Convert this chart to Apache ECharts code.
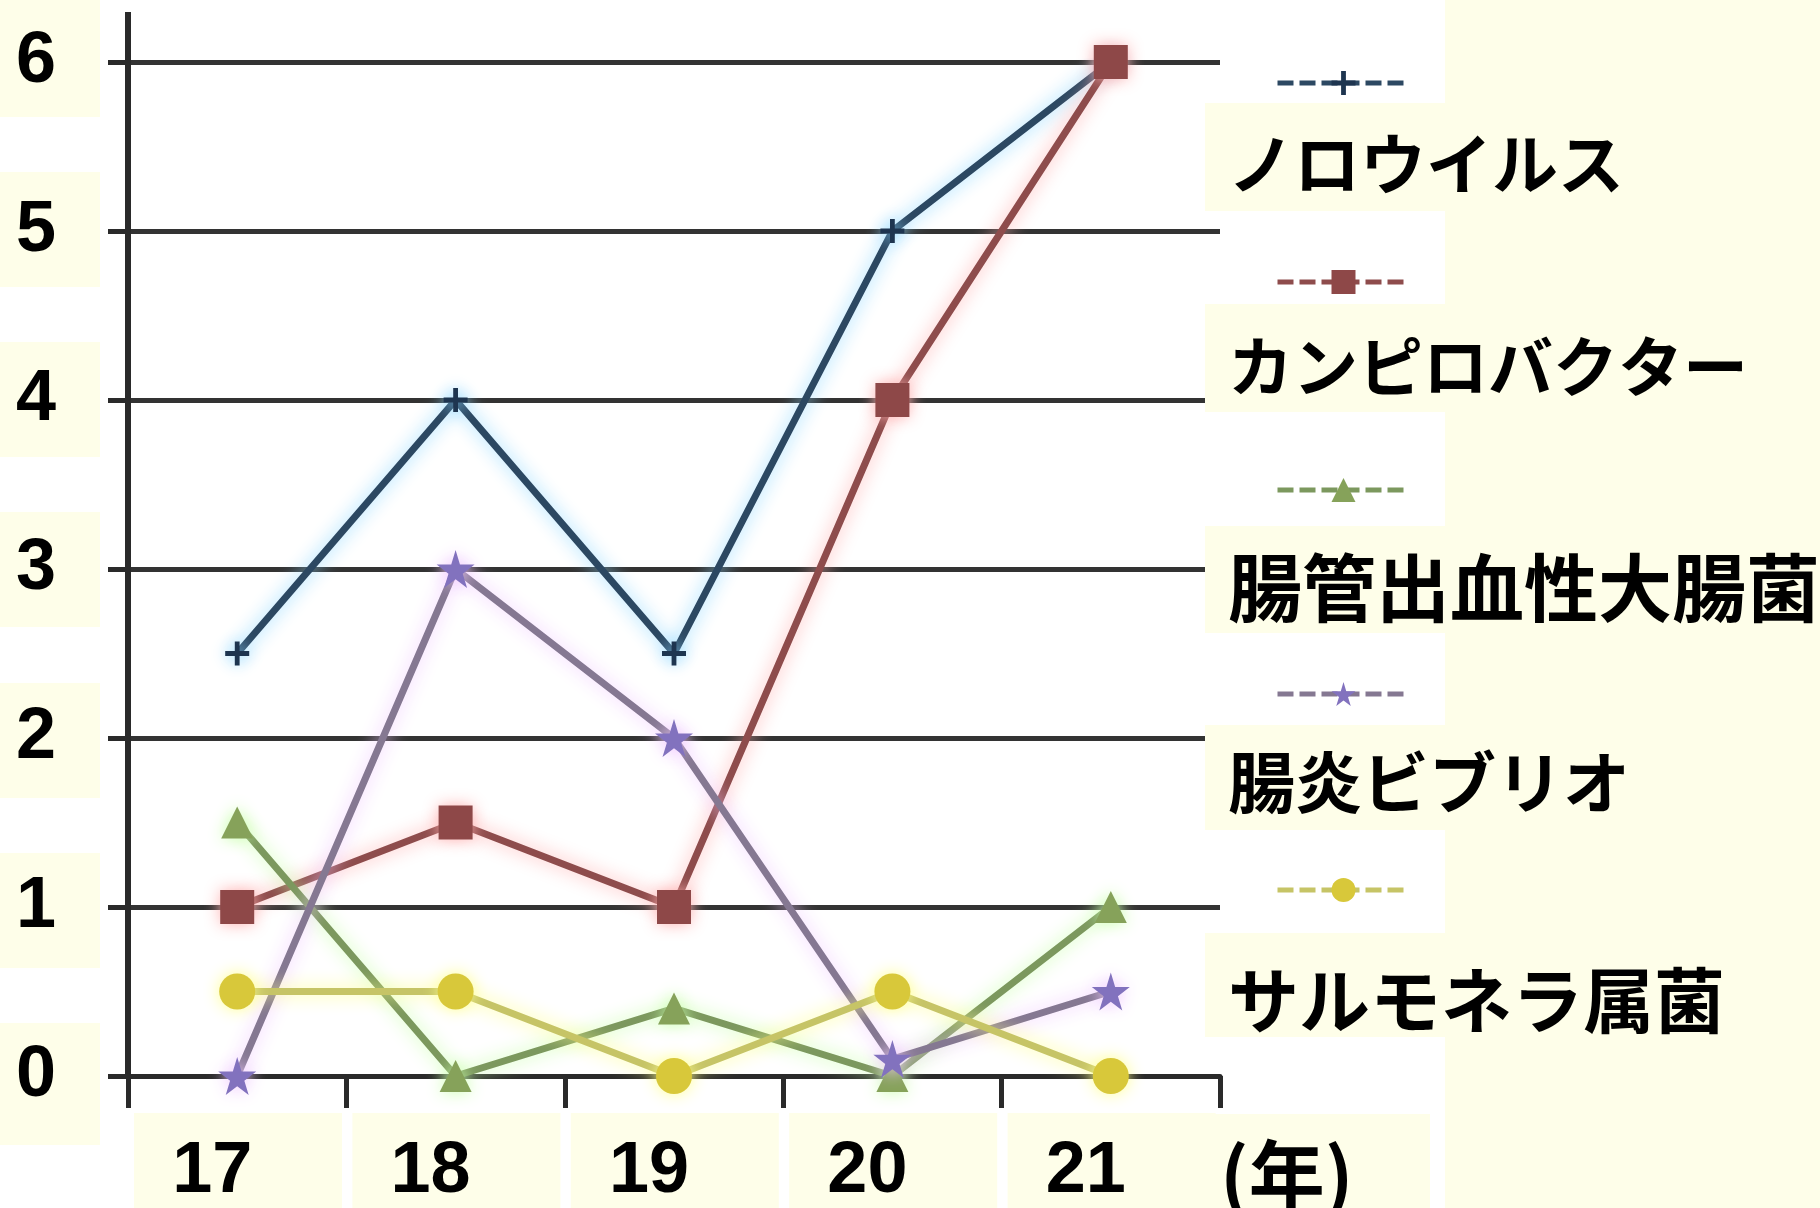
<!DOCTYPE html>
<html><head><meta charset="utf-8">
<script src="https://cdn.jsdelivr.net/npm/echarts@6/dist/echarts.min.js"></script>
<style>html,body{margin:0;padding:0;background:#fff}#c{width:1820px;height:1208px}</style>
</head><body><div id="c"></div>
<script>
// ---- data ----
const categories = ['17', '18', '19', '20', '21'];
const yTicks = [0, 1, 2, 3, 4, 5, 6];
const seriesNames = ['ノロウイルス', 'カンピロバクター', '腸管出血性大腸菌', '腸炎ビブリオ', 'サルモネラ属菌'];
const noro = [2.5, 4, 2.5, 5, 6];
const campylobacter = [1, 1.5, 1, 4, 6];
const ehec = [1.5, 0, 0.4, 0, 1];
const vibrio = [0, 3, 2, 0.1, 0.5];
const salmonella = [0.5, 0.5, 0, 0.5, 0];
const unitLabel = '(年)';

// ---- styles ----
const cream = '#FEFEE9';
const STAR = 'path://M50,0 L61,35 L98,35 L68,57 L79,91 L50,70 L21,91 L32,57 L2,35 L39,35 Z';
const PLUS = 'path://M4,0H6V4H10V6H6V10H4V6H0V4H4Z';
const looks = [
  {line: '#2C4862', halo: 'rgba(140,215,255,0.95)', symbol: PLUS, size: 24, mark: '#1E3550'},
  {line: '#8E4C4C', halo: 'rgba(255,175,175,0.95)', symbol: 'rect', size: 34, mark: '#8E4848'},
  {line: '#7C985E', halo: 'rgba(200,255,170,0.95)', symbol: 'triangle', size: 32, mark: '#86A25A'},
  {line: '#857892', halo: 'rgba(240,200,255,0.95)', symbol: STAR, size: 38, mark: '#8272BE'},
  {line: '#C6C466', halo: 'rgba(255,255,140,0.95)', symbol: 'circle', size: 36, mark: '#D8C83A'}
];
const values = [noro, campylobacter, ehec, vibrio, salmonella];

const series = seriesNames.map((name, i) => ({
  name: name,
  type: 'line',
  data: values[i],
  symbol: looks[i].symbol,
  symbolSize: looks[i].size,
  showSymbol: true,
  lineStyle: {color: looks[i].line, width: 7, shadowColor: looks[i].halo, shadowBlur: 18},
  itemStyle: {color: looks[i].mark, borderWidth: 0, shadowColor: looks[i].halo, shadowBlur: 16},
  emphasis: {disabled: true},
  animation: false
}));

// legend icon rows (marker centre y) and label rows
const legendIconY = [83, 282, 490, 694, 890];
const legendTextY = [164, 366, 588, 783, 1000];
const legendFont = [66, 65, 74, 67, 71];
const textRows = [[103, 211], [304, 412], [526, 633], [725, 830], [933, 1037]];

const legends = seriesNames.map((name, i) => ({
  data: [name],
  left: 1275, top: legendIconY[i] - 15,
  padding: 0,
  itemWidth: 132, itemHeight: 30,
  formatter: () => '',
  selectedMode: false,
  lineStyle: {width: 5, type: [16, 6], shadowBlur: 0},
  itemStyle: {shadowBlur: 0},
  textStyle: {fontSize: 1}
}));

const graphics = [];
// cream boxes behind y labels
const gridY = [1083, 913, 743, 572, 402, 232, 62];
gridY.forEach((y, k) => {
  const top = k === 6 ? 0 : y - 60;
  const bottom = k === 0 ? 1145 : y + 55;
  graphics.push({type: 'rect', z: -100, shape: {x: 0, y: top, width: 100, height: bottom - top}, style: {fill: cream}});
});
// cream boxes behind x labels
for (let i = 0; i < 5; i++) {
  const x0 = 128 + i * 218.4;
  graphics.push({type: 'rect', z: -100, shape: {x: x0 + 6, y: 1113, width: 208, height: 95}, style: {fill: cream}});
}
// right cream area
graphics.push({type: 'rect', z: -100, shape: {x: 1445, y: 0, width: 375, height: 1208}, style: {fill: cream}});
// legend text boxes (cover gridline ends)
textRows.forEach(r => {
  graphics.push({type: 'rect', z: 50, shape: {x: 1205, y: r[0], width: 615, height: r[1] - r[0]}, style: {fill: cream}});
});
graphics.push({type: 'rect', z: 50, shape: {x: 1205, y: 1114, width: 225, height: 94}, style: {fill: cream}});
// y axis extension above top gridline
graphics.push({type: 'line', z: 10, shape: {x1: 128, y1: 12, x2: 128, y2: 62}, style: {stroke: '#2a2a2a', lineWidth: 6}});
// legend labels
seriesNames.forEach((name, i) => {
  graphics.push({type: 'text', z: 60, x: 1228, y: legendTextY[i],
    style: {text: name, fontSize: legendFont[i], fontWeight: 'bold', fontFamily: '"Noto Sans CJK JP", sans-serif', fill: '#000', verticalAlign: 'middle', align: 'left'}});
});
graphics.push({type: 'text', z: 60, x: 1220, y: 1175,
  style: {text: unitLabel, fontSize: 76, fontWeight: 'bold', fontFamily: '"Noto Sans CJK JP", sans-serif', fill: '#000', verticalAlign: 'middle', align: 'left'}});

const chart = echarts.init(document.getElementById('c'), null, {renderer: 'canvas'});
chart.setOption({
  backgroundColor: '#ffffff',
  animation: false,
  grid: {left: 128, right: 600, top: 62, bottom: 125, containLabel: false},
  xAxis: {
    type: 'category', data: categories, boundaryGap: true,
    axisLine: {lineStyle: {color: '#2a2a2a', width: 5}},
    axisTick: {show: true, length: 32, lineStyle: {color: '#2a2a2a', width: 5}},
    axisLabel: {fontSize: 72, fontWeight: 'bold', fontFamily: '"Liberation Sans", Arial, sans-serif', color: '#000', margin: 60, padding: [0, 50, 0, 0]},
    splitLine: {show: false}
  },
  yAxis: {
    type: 'value', min: yTicks[0], max: yTicks[yTicks.length - 1], interval: 1,
    axisLine: {show: true, lineStyle: {color: '#2a2a2a', width: 6}},
    axisTick: {show: true, length: 20, lineStyle: {color: '#2a2a2a', width: 5}},
    axisLabel: {fontSize: 72, fontWeight: 'bold', fontFamily: '"Liberation Sans", Arial, sans-serif', color: '#000', margin: 72},
    splitLine: {show: true, lineStyle: {color: '#333333', width: 5}}
  },
  legend: legends,
  tooltip: {show: false},
  graphic: graphics,
  series: series
});
</script></body></html>
